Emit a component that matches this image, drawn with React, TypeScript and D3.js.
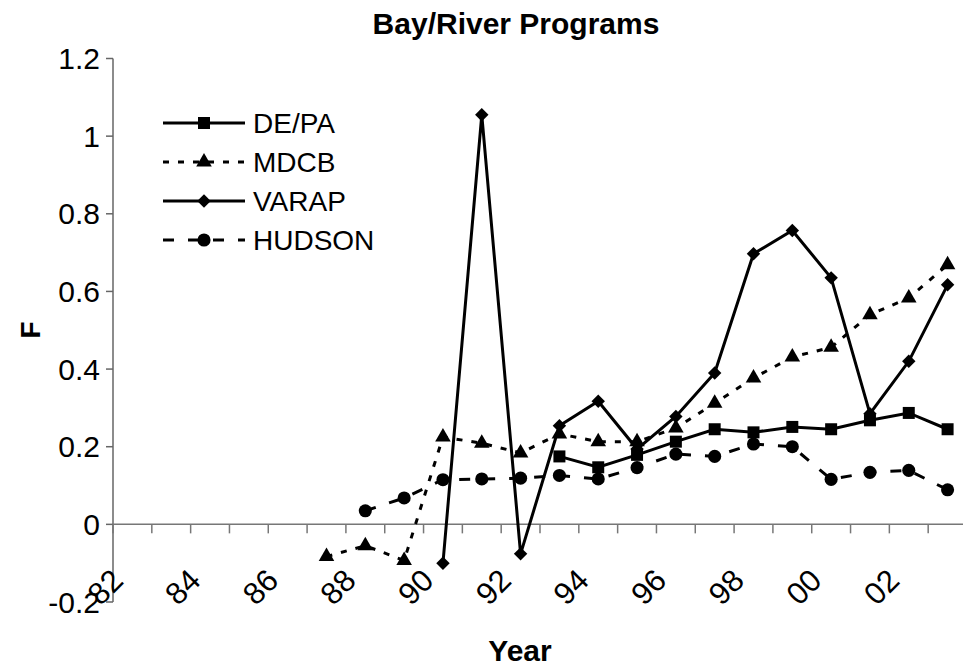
import React from "react";
import * as d3 from "d3";

// Fishing mortality (F) by survey year for the bay/river programs
const years = [
  "82", "83", "84", "85", "86", "87", "88", "89", "90", "91", "92",
  "93", "94", "95", "96", "97", "98", "99", "00", "01", "02", "03",
];
const yearLabels = ["82", "84", "86", "88", "90", "92", "94", "96", "98", "00", "02"];
const fTicks = [-0.2, 0, 0.2, 0.4, 0.6, 0.8, 1, 1.2];

const dePa: (number | null)[] = [
  null, null, null, null, null, null, null, null, null, null, null,
  0.175, 0.147, 0.179, 0.213, 0.245, 0.237, 0.251, 0.245, 0.268, 0.287, 0.245,
];
const mdcb: (number | null)[] = [
  null, null, null, null, null, -0.083, -0.055, -0.093, 0.225, 0.209, 0.184,
  0.233, 0.213, 0.213, 0.248, 0.312, 0.377, 0.431, 0.456, 0.54, 0.583, 0.669,
];
const varap: (number | null)[] = [
  null, null, null, null, null, null, null, null, -0.1, 1.055, -0.076,
  0.254, 0.317, 0.194, 0.278, 0.39, 0.697, 0.757, 0.635, 0.285, 0.42, 0.617,
];
const hudson: (number | null)[] = [
  null, null, null, null, null, null, 0.035, 0.068, 0.115, 0.117, 0.119,
  0.126, 0.117, 0.146, 0.181, 0.175, 0.207, 0.2, 0.116, 0.134, 0.139, 0.089,
];

type Series = {
  name: string;
  values: (number | null)[];
  dash?: string;
  symbol: d3.SymbolType;
  size: number;
};

const series: Series[] = [
  { name: "DE/PA", values: dePa, symbol: d3.symbolSquare, size: 144 },
  { name: "MDCB", values: mdcb, dash: "6 9", symbol: d3.symbolTriangle, size: 105 },
  { name: "VARAP", values: varap, symbol: d3.symbolDiamond2, size: 115 },
  { name: "HUDSON", values: hudson, dash: "11 14", symbol: d3.symbolCircle, size: 135 },
];

const FONT = "'Liberation Sans', Arial, Helvetica, sans-serif";

export default function App() {
  const W = 963;
  const H = 667;
  const x = d3.scaleBand<string>().domain(years).range([113, 967]);
  const y = d3.scaleLinear().domain([-0.2, 1.2]).range([602, 58.5]);
  const cx = (i: number) => (x(years[i]) as number) + x.bandwidth() / 2;

  const line = d3
    .line<number | null>()
    .defined((v) => v !== null)
    .x((_, i) => cx(i))
    .y((v) => y(v as number));

  const y0 = y(0);
  const boundaries = d3.range(years.length + 1).map((i) => 113 + i * x.bandwidth());
  const legendRows = [123, 162, 201, 240];

  return (
    <svg
      width={W}
      height={H}
      viewBox={`0 0 ${W} ${H}`}
      style={{ position: "absolute", left: 0, top: 0, background: "#fff" }}
      fontFamily={FONT}
    >
      <rect width={W} height={H} fill="#fff" />

      {/* title */}
      <text x={516} y={34} textAnchor="middle" fontSize={30} fontWeight="bold">
        Bay/River Programs
      </text>

      {/* y axis */}
      <line x1={113} x2={113} y1={y(1.2)} y2={y(-0.2)} stroke="#666" strokeWidth={1.5} />
      {fTicks.map((t) => (
        <g key={t}>
          <line x1={106} x2={113} y1={y(t)} y2={y(t)} stroke="#666" strokeWidth={1.5} />
          <text x={100} y={y(t)} textAnchor="end" dominantBaseline="central" fontSize={30}>
            {String(t)}
          </text>
        </g>
      ))}
      <text
        transform={`translate(30,330) rotate(-90)`}
        textAnchor="middle"
        dominantBaseline="central"
        fontSize={28}
        fontWeight="bold"
      >
        F
      </text>

      {/* x axis along F = 0 */}
      <line x1={113} x2={967} y1={y0} y2={y0} stroke="#777" strokeWidth={1.5} />
      {boundaries.map((b, i) => (
        <line key={i} x1={b} x2={b} y1={y0} y2={y0 + 9} stroke="#777" strokeWidth={1.5} />
      ))}
      {yearLabels.map((yr) => {
        const i = years.indexOf(yr);
        return (
          <text
            key={yr}
            transform={`translate(${cx(i) - 15},575) rotate(-45)`}
            textAnchor="end"
            dominantBaseline="central"
            fontSize={31}
          >
            {yr}
          </text>
        );
      })}
      <text x={520} y={661} textAnchor="middle" fontSize={30} fontWeight="bold">
        Year
      </text>

      {/* series */}
      {series.map((s) => {
        const sym = d3.symbol(s.symbol, s.size)() as string;
        return (
          <g key={s.name}>
            <path
              d={line(s.values) as string}
              fill="none"
              stroke="#000"
              strokeWidth={3}
              strokeDasharray={s.dash}
            />
            {s.values.map((v, i) =>
              v === null ? null : (
                <path key={i} d={sym} transform={`translate(${cx(i)},${y(v)})`} fill="#000" />
              )
            )}
          </g>
        );
      })}

      {/* legend */}
      {series.map((s, k) => {
        const ly = legendRows[k];
        const sym = d3.symbol(s.symbol, s.size)() as string;
        return (
          <g key={s.name}>
            <line x1={163} x2={245} y1={ly} y2={ly} stroke="#000" strokeWidth={3} strokeDasharray={s.dash} />
            <path d={sym} transform={`translate(204,${ly})`} fill="#000" />
            <text x={253} y={ly} dominantBaseline="central" fontSize={28}>
              {s.name}
            </text>
          </g>
        );
      })}
    </svg>
  );
}
